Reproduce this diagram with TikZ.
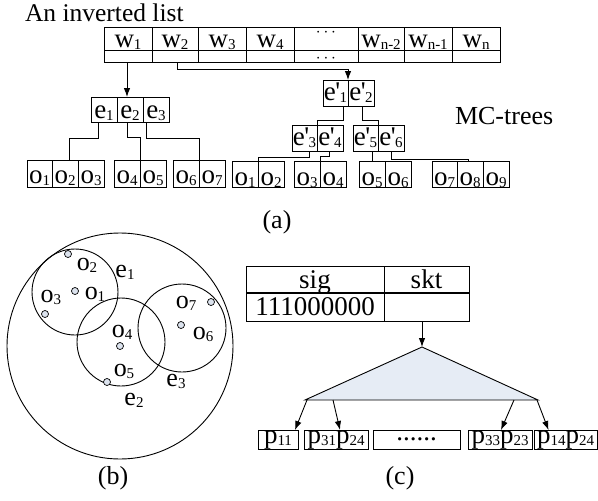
\documentclass[tikz,border=0pt]{standalone}
\usepackage{fontspec}
\setmainfont{Liberation Serif}
\usetikzlibrary{arrows.meta}
\newcommand\sbx[1]{\raisebox{-2pt}{\fontsize{15}{15}\selectfont #1}}
\newcommand\ep[1]{e\kern-0.5pt\textquotesingle\kern-0.5pt\sbx{#1}}
\definecolor{trifill}{RGB}{230,236,245}
\definecolor{ptfill}{RGB}{220,227,238}
\begin{document}
\begin{tikzpicture}[x=1pt,y=-1pt,
  every node/.style={inner sep=0pt, outer sep=0pt, font=\fontsize{26}{28}\selectfont},
  cell/.style={draw, line width=0.9pt, font=\fontsize{27}{28}\selectfont},
  wtop/.style={cell, text height=20pt, text depth=3pt},
  wbot/.style={cell, text height=12pt, text depth=0pt},
  ecell/.style={cell, text height=21pt, text depth=4pt, minimum width=26pt},
  ocell/.style={cell, text height=23pt, text depth=4pt, minimum width=26pt},
  epcell/.style={cell, text height=20pt, text depth=6pt, minimum width=26pt},
  rocell/.style={cell, text height=24pt, text depth=2pt, minimum width=26pt},
  sigtop/.style={cell, text height=22pt, text depth=5pt},
  sigbot/.style={cell, text height=22pt, text depth=6pt},
  pcell/.style={cell, text height=13pt, text depth=6pt},
  conn/.style={line width=0.9pt},
  arr/.style={line width=0.9pt, -{Latex[length=9pt,width=6.5pt]}},
  ring/.style={circle, draw, line width=0.9pt},
  pt/.style={circle, draw, line width=0.7pt, fill=ptfill, minimum size=7pt},
  lbl/.style={anchor=base}
]
\useasboundingbox (0,0) rectangle (598,501);

% ---------- (a) inverted list ----------
\node[anchor=base west, font=\fontsize{25.5}{27}\selectfont] (title) at (25,21.5) {An inverted list};

\node[wtop, minimum width=48pt] (wa1) at (128,38.5) {w\sbx{1}};
\node[wtop, minimum width=46pt] (wa2) at (175,38.5) {w\sbx{2}};
\node[wtop, minimum width=48pt] (wa3) at (222,38.5) {w\sbx{3}};
\node[wtop, minimum width=48pt] (wa4) at (270,38.5) {w\sbx{4}};
\node[cell, minimum width=64pt, text height=9.5pt, text depth=13.5pt, font=\fontsize{16}{16}\selectfont] (wa5) at (326,38.5) {$\cdots$};
\node[wtop, minimum width=46pt] (wa6) at (381,38.5) {w\sbx{n-2}};
\node[wtop, minimum width=48pt] (wa7) at (428,38.5) {w\sbx{n-1}};
\node[wtop, minimum width=48pt] (wa8) at (476,38.5) {w\sbx{n}};

\node[wbot, minimum width=48pt] (wb1) at (128,56) {};
\node[wbot, minimum width=46pt] (wb2) at (175,56) {};
\node[wbot, minimum width=48pt] (wb3) at (222,56) {};
\node[wbot, minimum width=48pt] (wb4) at (270,56) {};
\node[wbot, minimum width=64pt, font=\fontsize{16}{16}\selectfont] (wb5) at (326,56) {$\cdots$};
\node[wbot, minimum width=46pt] (wb6) at (381,56) {};
\node[wbot, minimum width=48pt] (wb7) at (428,56) {};
\node[wbot, minimum width=48pt] (wb8) at (476,56) {};

% left MC-tree
\node[ecell] (e1) at (104,109.5) {e\sbx{1}};
\node[ecell] (e2) at (130,109.5) {e\sbx{2}};
\node[ecell] (e3) at (156,109.5) {e\sbx{3}};

\node[ocell, minimum width=25pt] (lo1) at (39.5,173.5) {o\sbx{1}};
\node[ocell] (lo2) at (65,173.5) {o\sbx{2}};
\node[ocell] (lo3) at (91,173.5) {o\sbx{3}};
\node[ocell] (lo4) at (127,173.5) {o\sbx{4}};
\node[ocell] (lo5) at (153,173.5) {o\sbx{5}};
\node[ocell] (lo6) at (186,173.5) {o\sbx{6}};
\node[ocell] (lo7) at (212,173.5) {o\sbx{7}};

\draw[arr] ([xshift=-1pt]wb1.south) -- ([xshift=-1pt]wb1.south |- e2.north);
\draw[conn] ([xshift=-6pt]e1.south) -- ++(0,16) -| ([xshift=4pt]lo2.north);
\draw[conn] ([xshift=-3pt]e2.south) -- ++(0,15) -| (lo4.north east);
\draw[conn] ([xshift=-10pt]e3.south) -- ++(0,16) -| (lo7.north west);

% right MC-tree
\node[epcell, minimum width=25pt] (ep1) at (335.5,93) {\ep{1}};
\node[epcell] (ep2) at (361,93) {\ep{2}};
\node[epcell, minimum width=25pt] (ep3) at (304.5,138) {\ep{3}};
\node[epcell] (ep4) at (330,138) {\ep{4}};
\node[epcell, minimum width=25pt] (ep5) at (365.5,138) {\ep{5}};
\node[epcell] (ep6) at (391,138) {\ep{6}};

\node[rocell] (ro1) at (245,174) {o\sbx{1}};
\node[rocell] (ro2) at (271,174) {o\sbx{2}};
\node[rocell] (ro3) at (307,174) {o\sbx{3}};
\node[rocell] (ro4) at (333,174) {o\sbx{4}};
\node[rocell] (ro5) at (372,174) {o\sbx{5}};
\node[rocell] (ro6) at (398,174) {o\sbx{6}};
\node[rocell, minimum width=25pt] (ro7) at (444.5,174) {o\sbx{7}};
\node[rocell] (ro8) at (470,174) {o\sbx{8}};
\node[rocell] (ro9) at (496,174) {o\sbx{9}};

\draw[arr] ([xshift=2pt]wb2.south) -- ++(0,7) -| (ep1.north east);
\draw[conn] ([xshift=7.5pt]ep1.south) -- ++(0,14) -| (ep3.north east);
\draw[conn] ([xshift=1pt]ep2.south) -- ++(0,14) -| (ep5.north east);
\draw[conn] ([xshift=4.5pt]ep3.south) -- ++(0,6) -| (ro1.north east);
\draw[conn] ([xshift=-1pt]ep4.south) -- ++(0,5) -| (ro3.north east);
\draw[conn] ([xshift=6.5pt]ep5.south) -- ([xshift=6.5pt]ep5.south |- ro5.north);
\draw[conn] (ep6.south) -- ++(0,8) -| ([xshift=-2pt]ro8.north);

\node[anchor=base west] (mct) at (455,124) {MC-trees};
\node[lbl] (capa) at (277,228) {(a)};

% ---------- (b) circles ----------
\node[ring, minimum size=226pt] (U) at (120,346) {};
\node[ring, minimum size=86pt] (ce1) at (75,292) {};
\node[ring, minimum size=88pt] (ce2) at (121,342) {};
\node[ring, minimum size=88pt] (ce3) at (182,328) {};

\node[pt] (p2) at (68,254) {};
\node[pt] (p1) at (75,291) {};
\node[pt] (p3) at (45,314) {};
\node[pt] (p4) at (120,346) {};
\node[pt] (p5) at (107,382) {};
\node[pt] (p7) at (211,302) {};
\node[pt] (p6) at (181,325) {};

\node (lo2b) at (87,265) {o\sbx{2}};
\node (le1) at (125,272) {e\sbx{1}};
\node (lo1b) at (95,294) {o\sbx{1}};
\node (lo3b) at (51,297) {o\sbx{3}};
\node (lo4b) at (122,332) {o\sbx{4}};
\node (lo5b) at (124,371) {o\sbx{5}};
\node (le2) at (134,400) {e\sbx{2}};
\node (le3) at (176,381) {e\sbx{3}};
\node (lo7b) at (186,303) {o\sbx{7}};
\node (lo6b) at (203,334) {o\sbx{6}};

\node[lbl] (capb) at (113,484) {(b)};

% ---------- (c) signature table and tree ----------
\node[sigtop, minimum width=138pt] (sig) at (315,279.5) {sig};
\node[sigtop, minimum width=85pt] (skt) at (426.5,279.5) {skt};
\node[sigbot, minimum width=138pt] (sigv) at (315,307) {111000000};
\node[sigbot, minimum width=85pt] (sktv) at (426.5,307) {};
\draw[line width=1.6pt] (sig.south west) -- (skt.south east);

\coordinate (apex) at (422,347);
\coordinate (tl) at (305,400);
\coordinate (tr) at (538,400);
\filldraw[fill=trifill, line width=0.9pt] (apex) -- (tl) -- (tr) -- cycle;
\draw[arr] (sktv.south -| apex) -- (apex);

\node[pcell, minimum width=40pt] (pb1) at (278,439.5) {p\sbx{11}};
\node[pcell, minimum width=64pt] (pb2) at (336,439.5) {p\sbx{31}p\sbx{24}};
\node[cell, minimum width=87pt, text height=10pt, text depth=9pt] (pb3) at (416.5,439.5) {......};
\node[pcell, minimum width=64pt] (pb4) at (500,439.5) {p\sbx{33}p\sbx{23}};
\node[pcell, minimum width=63pt] (pb5) at (565.5,439.5) {p\sbx{14}p\sbx{24}};

\coordinate (b1) at (307,400);
\coordinate (b2) at (333,400);
\coordinate (b3) at (514,400);
\coordinate (b4) at (537,400);
\draw[arr] (b1) -- ([xshift=17pt]pb1.north);
\draw[arr] (b2) -- ([xshift=4pt]pb2.north);
\draw[arr] (b3) -- ([xshift=1pt]pb4.north);
\draw[arr] (b4) -- ([xshift=-17pt]pb5.north);

\node[lbl] (capc) at (400,484) {(c)};
\end{tikzpicture}
\end{document}
